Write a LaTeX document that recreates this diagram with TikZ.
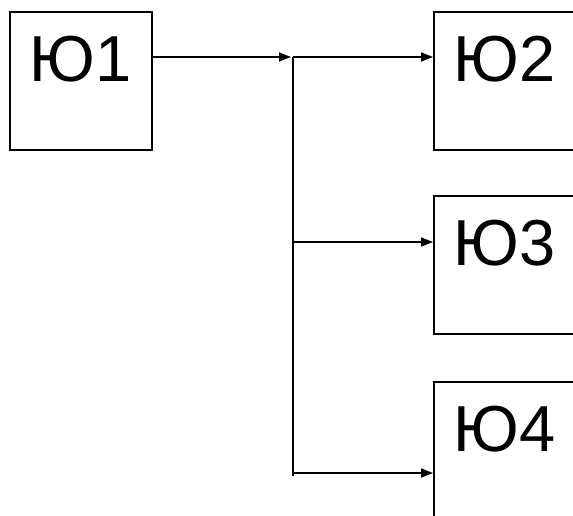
\documentclass[tikz,border=0pt]{standalone}
\usepackage{fontspec}
\setmainfont{Liberation Sans}
\usetikzlibrary{arrows.meta}

\begin{document}
\begin{tikzpicture}[x=1pt,y=-1pt,
  boite/.style={
    rectangle,
    draw,
    line width=1.6pt,
    inner sep=0pt,
    minimum width=142pt,
    text height=70pt,
    text depth=68pt,
    anchor=north west,
    font=\fontsize{65}{65}\selectfont},
  fleche/.style={-{Triangle[length=12pt,width=9pt]},line width=1.6pt}]
  \useasboundingbox (0,0) rectangle (573,516);

  \coordinate (Y1) at (9,11);
  \coordinate (Y2) at (433,11);
  \coordinate (Y3) at (433,195);
  \coordinate (Y4) at (433,381);

  \coordinate (J1) at (293,57);
  \coordinate (J3) at (293,242);
  \coordinate (J4) at (293,473);
  \coordinate (J5) at (293,476);

  \node[boite] at (Y1) (y1) {Ю1};
  \node[boite] at (Y2) (y2) {Ю2};
  \node[boite] at (Y3) (y3) {Ю3};
  \node[boite] at (Y4) (y4) {Ю4};

  \draw[fleche,shorten >=2pt] (J1 -| y1.east) -- (J1);
  \draw[line width=1.6pt] (J1) -- (J5);

  \draw[fleche] (J1) -- (J1 -| y2.west);
  \draw[fleche] (J3) -- (J3 -| y3.west);
  \draw[fleche] (J4) -- (J4 -| y4.west);

\end{tikzpicture}
\end{document}
